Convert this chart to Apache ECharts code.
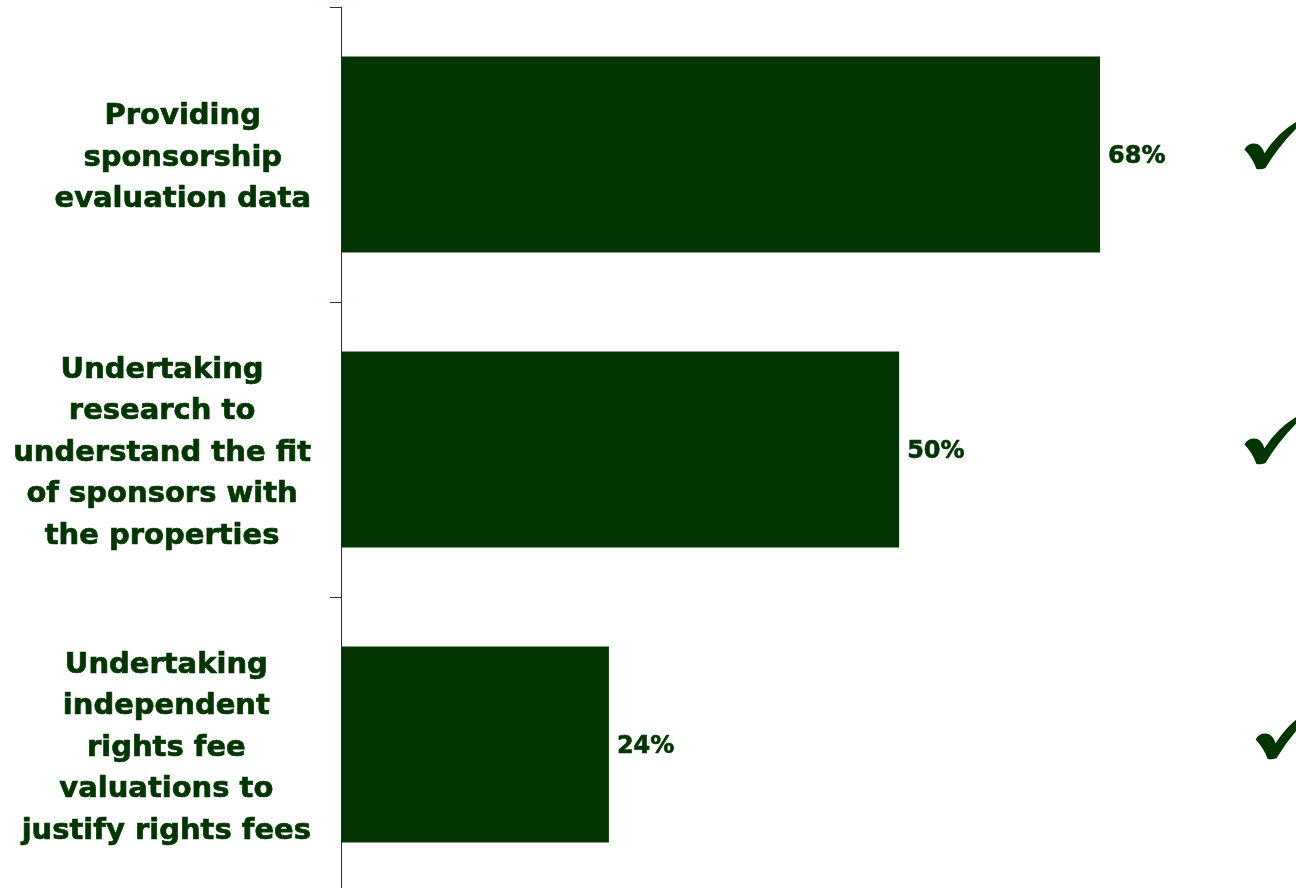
<!DOCTYPE html>
<html>
<head>
<meta charset="utf-8">
<script src="https://cdn.jsdelivr.net/npm/echarts@6/dist/echarts.min.js"></script>
<style>
html,body{margin:0;padding:0;background:#fff;}
#chart{width:1296px;height:888px;}
</style>
</head>
<body>
<div id="chart"></div>
<script>
const categories = [
  "Providing\nsponsorship\nevaluation data",
  "Undertaking\nresearch to\nunderstand the fit\nof sponsors with\nthe properties",
  "Undertaking\nindependent\nrights fee\nvaluations to\njustify rights fees"
];
const values = [68, 50, 24];
const checkX = [83.4, 83.4, 84.4];

const green = '#033503';
const checkPath = 'path://M0,30 Q4,22 13,24 Q18,27 20,34 Q33,12 52,0 L55,4 Q35,25 21,50 Q17,52 12,51 Q8,39 0,30 Z';
const chart = echarts.init(document.getElementById('chart'));
chart.setOption({
  animation: false,
  backgroundColor: '#ffffff',
  grid: { left: 341, top: 7, width: 893, height: 885, containLabel: false, outerBoundsMode: 'none' },
  xAxis: { type: 'value', min: 0, max: 80, show: false },
  yAxis: {
    type: 'category',
    data: categories,
    inverse: true,
    axisLine: { show: true, lineStyle: { color: '#223a22', width: 1 } },
    axisTick: { show: true, length: 11, lineStyle: { color: '#223a22', width: 1 } },
    axisLabel: {
      margin: 30,
      align: 'right',
      padding: [7, 0, 0, 0],
      fontFamily: 'DejaVu Sans',
      fontWeight: 'bold',
      fontSize: 29,
      lineHeight: 41.5,
      color: green,
      formatter: v => v.split('\n').map(l => '{c|' + l + '}').join('\n'),
      rich: { c: { align: 'center', fontFamily: 'DejaVu Sans', fontWeight: 'bold', fontSize: 29, lineHeight: 41.5, color: green, textBorderColor: green, textBorderWidth: 0.7 } }
    }
  },
  series: [
    {
      type: 'bar',
      data: values,
      barCategoryGap: '33.5%',
      itemStyle: { color: green },
      label: {
        show: true, position: 'right', distance: 8, offset: [0, 2],
        formatter: '{c}%',
        fontFamily: 'DejaVu Sans', fontWeight: 'bold', fontSize: 24, color: green,
        textBorderColor: green, textBorderWidth: 0.6
      }
    },
    {
      type: 'scatter',
      data: checkX.map((x, i) => [x, i]),
      symbol: checkPath,
      symbolSize: [55, 51],
      symbolKeepAspect: true,
      symbolOffset: [0, -9],
      itemStyle: { color: green, opacity: 1 },
      clip: false,
      silent: true
    }
  ]
});
</script>
</body>
</html>
